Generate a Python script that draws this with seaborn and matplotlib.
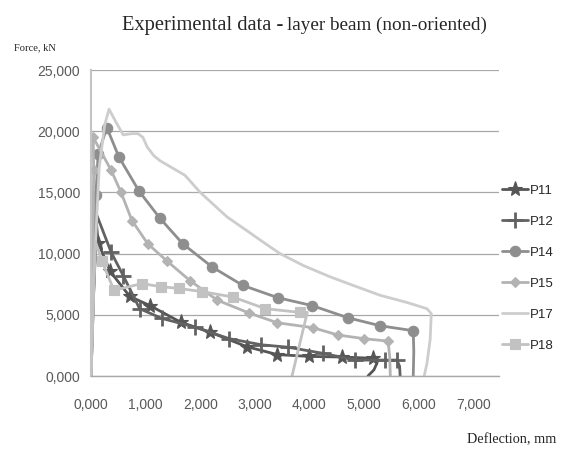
import matplotlib
matplotlib.use('Agg')
import matplotlib.pyplot as plt
import seaborn as sns
from matplotlib.ticker import FuncFormatter, MultipleLocator

# Deflection (mm) and force (kN)
p11_x = [0.0, 0.04, 0.10, 0.13, 0.35, 0.71, 1.08, 1.64, 2.17, 2.85, 3.41, 3.99, 4.60, 5.16, 5.24, 5.18, 5.07]
p11_y = [0.0, 6.0, 12.5, 10.9, 8.55, 6.5, 5.75, 4.4, 3.6, 2.4, 1.75, 1.6, 1.55, 1.45, 1.1, 0.5, 0.0]

p12_x = [0.0, 0.05, 0.11, 0.37, 0.59, 0.89, 1.30, 1.90, 2.53, 3.12, 3.61, 4.25, 4.84, 5.38, 5.60, 5.65, 5.66]
p12_y = [0.0, 7.0, 13.1, 10.1, 8.2, 5.5, 4.7, 4.0, 3.05, 2.55, 2.35, 1.85, 1.3, 1.3, 1.3, 0.8, 0.0]

p14_x = [0.0, 0.09, 0.13, 0.29, 0.51, 0.88, 1.26, 1.68, 2.22, 2.78, 3.42, 4.05, 4.71, 5.30, 5.90, 5.91, 5.90]
p14_y = [0.0, 14.8, 18.1, 20.3, 17.9, 15.1, 12.9, 10.8, 8.9, 7.4, 6.4, 5.75, 4.75, 4.1, 3.7, 2.0, 0.0]

p15_x = [0.0, 0.05, 0.04, 0.37, 0.55, 0.75, 1.04, 1.39, 1.81, 2.31, 2.89, 3.41, 4.06, 4.52, 5.00, 5.44, 5.47, 5.48]
p15_y = [0.0, 16.8, 19.5, 16.8, 15.0, 12.7, 10.8, 9.4, 7.8, 6.2, 5.15, 4.35, 3.95, 3.35, 3.05, 2.85, 1.5, 0.0]

p17_x = [0.0, 0.05, 0.15, 0.25, 0.33, 0.45, 0.59, 0.75, 0.86, 0.95, 1.03, 1.15, 1.26, 1.45, 1.72,
         2.00, 2.49, 2.91, 3.10, 3.46, 3.90, 4.38, 4.80, 5.29, 5.79, 6.15, 6.23, 6.21, 6.15, 6.10]
p17_y = [0.0, 8.0, 17.0, 20.5, 21.8, 20.8, 19.7, 19.8, 19.8, 19.5, 18.7, 18.0, 17.6, 17.1, 16.4,
         15.0, 13.0, 11.7, 11.1, 10.0, 9.0, 8.1, 7.4, 6.6, 6.0, 5.5, 5.1, 3.0, 1.0, 0.0]

p18_x = [0.0, 0.08, 0.20, 0.42, 0.93, 1.28, 1.61, 2.03, 2.60, 3.19, 3.82, 3.96, 3.68]
p18_y = [0.0, 11.0, 9.4, 7.0, 7.55, 7.3, 7.15, 6.9, 6.45, 5.5, 5.2, 5.2, 0.0]

names = ['P11', 'P12', 'P14', 'P15', 'P17', 'P18']
xs = [p11_x, p12_x, p14_x, p15_x, p17_x, p18_x]
ys = [p11_y, p12_y, p14_y, p15_y, p17_y, p18_y]

styles = {
    'P11': dict(color='#555555', marker='*', ms=11, markevery=list(range(3, 14))),
    'P12': dict(color='#626262', marker='+', ms=12, markevery=list(range(3, 15))),
    'P14': dict(color='#8e8e8e', marker='o', ms=7.5, markevery=list(range(1, 15))),
    'P15': dict(color='#b3b3b3', marker='D', ms=5.5, markevery=list(range(1, 16))),
    'P17': dict(color='#cdcdcd', marker=None, ms=0, markevery=None),
    'P18': dict(color='#c2c2c2', marker='s', ms=6.5, markevery=list(range(2, 11))),
}

sns.set_style('white')
plt.rcParams['font.family'] = ['Liberation Sans Narrow', 'Liberation Sans', 'DejaVu Sans']

fig = plt.figure(figsize=(5.63, 4.54), dpi=100)
ax = fig.add_axes([91 / 563, 78 / 454, 408 / 563, 306 / 454])

for name, x, y in zip(names, xs, ys):
    st = styles[name]
    kw = dict(color=st['color'], lw=2.0, label=name)
    if st['marker']:
        kw.update(marker=st['marker'], markersize=st['ms'], markevery=st['markevery'],
                  markeredgecolor=st['color'], markerfacecolor=st['color'],
                  markeredgewidth=2.0 if st['marker'] == '+' else 0.8)
    sns.lineplot(x=x, y=y, sort=False, estimator=None, ax=ax, **kw)

ax.set_xlim(0, 7.47)
ax.set_ylim(0, 25)
ax.xaxis.set_major_locator(MultipleLocator(1))
ax.yaxis.set_major_locator(MultipleLocator(5))
fmt = FuncFormatter(lambda v, p: f'{v:.3f}'.replace('.', ','))
ax.xaxis.set_major_formatter(fmt)
ax.yaxis.set_major_formatter(fmt)
ax.tick_params(axis='both', length=0, labelsize=10, labelcolor='#595959')
ax.tick_params(axis='x', pad=16)
ax.tick_params(axis='y', pad=8)
ax.set_xlabel('')
ax.set_ylabel('')

ax.yaxis.grid(True, color='#a8a8a8', lw=0.9)
ax.xaxis.grid(False)
for s in ['top', 'right']:
    ax.spines[s].set_visible(False)
ax.spines['left'].set_color('#c4c4c4')
ax.spines['left'].set_linewidth(1.5)
ax.spines['bottom'].set_color('#a8a8a8')
ax.spines['bottom'].set_linewidth(1.0)

ax.legend(loc='center left', bbox_to_anchor=(502 / 563, 1 - 268 / 454),
          bbox_transform=fig.transFigure, frameon=False, fontsize=9.5,
          handlelength=2.0, handletextpad=0.15, labelspacing=1.42,
          borderpad=0, borderaxespad=0, numpoints=1)

serif = ['Liberation Serif', 'DejaVu Serif']
fig.text(122 / 563, 1 - 30 / 454, 'Experimental data - ', fontsize=14.8,
         family=serif, va='baseline', ha='left')
fig.text(287 / 563, 1 - 30 / 454, 'layer beam (non-oriented)', fontsize=13.8,
         family=serif, va='baseline', ha='left')
fig.text(14 / 563, 1 - 48 / 454, 'Force, kN', fontsize=7.6, family=serif, va='center', ha='left')
fig.text(467 / 563, 1 - 440 / 454, 'Deflection, mm', fontsize=10.3, family=serif,
         va='center', ha='left')

fig.savefig('out.png', dpi=100)
